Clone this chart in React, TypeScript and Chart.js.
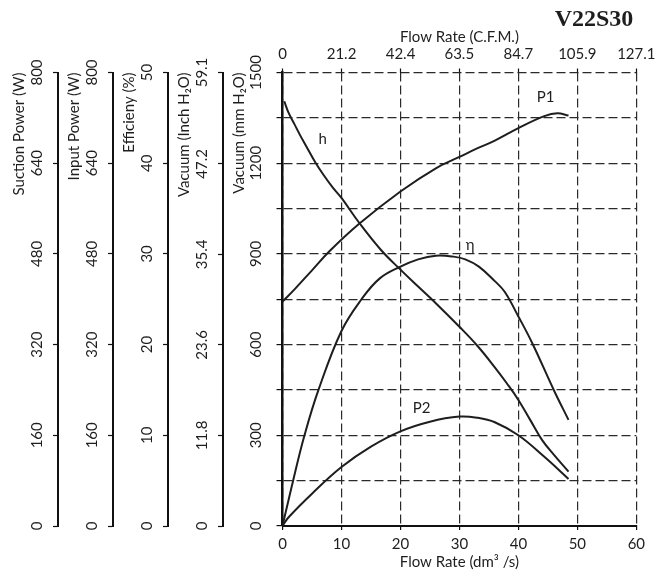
import React, { useEffect, useRef } from 'react';
import { Chart, registerables } from 'chart.js';

Chart.register(...registerables);

const FONT_FAMILY = 'Lato, "Open Sans", "DejaVu Sans", sans-serif';
const INK = '#1e1e1e';
const GRID = '#2a2a2a';

// ---- axes ----
const FLOW_TICKS = [0, 10, 20, 30, 40, 50, 60];
const CFM_TICKS = [0, 21.2, 42.4, 63.5, 84.7, 105.9, 127.1];
const MM_TICKS = [0, 150, 300, 450, 600, 750, 900, 1050, 1200, 1350, 1500];
const MM_LABELED = [0, 300, 600, 900, 1200, 1500];
const INCH_TICKS = [0, 11.8, 23.6, 35.4, 47.2, 59.1];
const EFF_TICKS = [0, 10, 20, 30, 40, 50];
const POWER_TICKS = [0, 160, 320, 480, 640, 800];

// ---- series (flow in dm3/s) ----
const H_FLOW = [0.3, 1, 2, 3, 4, 5.5, 7, 8.5, 10, 13, 16.7, 20, 23, 26, 30, 33, 36, 38, 40, 42, 44, 46, 48.5];
const H_MM = [1405, 1368, 1330, 1292, 1257, 1205, 1160, 1120, 1085, 1003, 913, 848, 792, 737, 659, 597, 525, 473, 417, 351, 285, 236, 180];

const P1_FLOW = [0, 2, 5, 8, 13, 20, 26, 30, 33, 36, 40, 44.4, 46.6, 48.5];
const P1_W = [396, 417, 451, 485, 533, 590, 631, 651, 666, 680, 702, 723, 728, 724];

const ETA_FLOW = [0, 1.8, 3.73, 6.1, 10, 13.4, 16.5, 20, 23, 26, 29, 31, 33.3, 36, 37.7, 40, 42.4, 46, 48.5];
const ETA_PCT = [0, 5.0, 10.0, 15.0, 21.5, 25.0, 27.3, 28.6, 29.4, 29.8, 29.7, 29.4, 28.6, 27.0, 25.8, 23.1, 20.1, 15.0, 11.7];

const P2_FLOW = [0, 1, 5, 10, 15, 20, 25, 30, 33, 36, 40, 44.4, 48.5];
const P2_W = [0, 15, 57, 104, 140, 167, 184, 193, 191, 183, 160, 122, 83];

// curve annotations (in flow / mm H2O units)
const LABEL_TEXT = ['h', 'η', 'P1', 'P2'];
const LABEL_FLOW = [6.8, 31.8, 44.6, 23.6];
const LABEL_MM = [1280, 930, 1417, 389];

const MODEL = 'V22S30';

const toPts = (xs: number[], ys: number[]) => xs.map((x, i) => ({ x, y: ys[i] }));

const font = { family: FONT_FAMILY, size: 15 };

function leftAxis(weight: number, title: string, ticks: number[], max: number, width: number, padding: number) {
  return {
    type: 'linear',
    position: 'left',
    weight,
    min: 0,
    max,
    afterBuildTicks: (s: any) => {
      s.ticks = ticks.map((v) => ({ value: v }));
    },
    afterFit: (s: any) => {
      s.width = width;
    },
    ticks: {
      font,
      color: INK,
      minRotation: 90,
      maxRotation: 90,
      crossAlign: 'center',
      padding,
      callback: (v: any) => String(v),
    },
    grid: {
      drawOnChartArea: false,
      drawTicks: true,
      tickLength: 5,
      tickColor: '#111',
      tickWidth: 1.2,
    },
    border: { display: true, color: '#111', width: 2 },
    title: {
      display: true,
      text: title,
      align: 'end',
      font,
      color: INK,
      padding: { top: 7, bottom: 0 },
    },
  };
}

const annotate = {
  id: 'annotate',
  afterDatasetsDraw(chart: any) {
    const { ctx } = chart;
    const xs = chart.scales.x;
    const ys = chart.scales.mm;
    ctx.save();
    ctx.fillStyle = INK;
    ctx.font = `15px ${FONT_FAMILY}`;
    ctx.textAlign = 'center';
    ctx.textBaseline = 'middle';
    LABEL_TEXT.forEach((t, i) => {
      ctx.fillText(t, xs.getPixelForValue(LABEL_FLOW[i]), ys.getPixelForValue(LABEL_MM[i]));
    });
    ctx.font = 'bold 24px "Liberation Serif", "DejaVu Serif", serif';
    ctx.textAlign = 'right';
    ctx.fillText(MODEL, chart.chartArea.right - 3, 20);
    ctx.restore();
  },
};

export default function App() {
  const ref = useRef<HTMLCanvasElement | null>(null);

  useEffect(() => {
    document.body.style.margin = '0';
    if (!ref.current) return;
    const lineStyle = {
      borderColor: INK,
      borderWidth: 2,
      pointRadius: 0,
      fill: false,
      tension: 0.4,
      xAxisID: 'x',
    };
    const chart = new Chart(ref.current, {
      type: 'line',
      data: {
        datasets: [
          { ...lineStyle, label: 'h', data: toPts(H_FLOW, H_MM), yAxisID: 'mm' },
          { ...lineStyle, label: 'P1', data: toPts(P1_FLOW, P1_W), yAxisID: 'input' },
          { ...lineStyle, label: 'η', data: toPts(ETA_FLOW, ETA_PCT), yAxisID: 'eff' },
          { ...lineStyle, label: 'P2', data: toPts(P2_FLOW, P2_W), yAxisID: 'suction' },
        ] as any,
      },
      options: {
        responsive: false,
        animation: false,
        layout: { padding: { left: 3, right: 17, top: 0, bottom: 0 } },
        plugins: { legend: { display: false }, tooltip: { enabled: false }, title: { display: false } },
        scales: {
          x: {
            type: 'linear',
            position: 'bottom',
            min: 0,
            max: 60,
            afterBuildTicks: (s: any) => {
              s.ticks = FLOW_TICKS.map((v) => ({ value: v }));
            },
            afterFit: (s: any) => {
              s.height = 48;
            },
            ticks: { font, color: INK, padding: 5, maxRotation: 0, callback: (v: any) => String(v) },
            grid: { color: GRID, lineWidth: 1.2, tickLength: 4, drawTicks: true, tickColor: '#111', tickWidth: 1.2 },
            border: { display: true, color: '#111', width: 2, dash: [9, 4] },
            title: { display: true, text: 'Flow Rate (dm³ /s)', font, color: INK, padding: { top: 0, bottom: 3 } },
          },
          cfm: {
            type: 'linear',
            position: 'top',
            min: 0,
            max: 127.1,
            afterBuildTicks: (s: any) => {
              s.ticks = CFM_TICKS.map((v) => ({ value: v }));
            },
            afterFit: (s: any) => {
              s.height = 72.5;
            },
            ticks: { font, color: INK, padding: 5.5, maxRotation: 0, autoSkip: false, callback: (v: any) => String(v) },
            grid: { drawOnChartArea: false, drawTicks: true, tickLength: 4, tickColor: '#111', tickWidth: 1.2 },
            border: { display: false },
            title: { display: true, text: 'Flow Rate (C.F.M.)', font, color: INK, padding: { top: 28, bottom: 0 } },
          },
          suction: leftAxis(5, 'Suction Power (W)', POWER_TICKS, 800, 55, 2.5),
          input: leftAxis(4, 'Input Power (W)', POWER_TICKS, 800, 55, 2.5),
          eff: leftAxis(3, 'Efficieny (%)', EFF_TICKS, 50, 55, 6.8),
          inch: leftAxis(2, 'Vacuum (Inch H₂O)', INCH_TICKS, 59.1, 55, 0.6),
          mm: {
            type: 'linear',
            position: 'left',
            weight: 1,
            min: 0,
            max: 1500,
            afterBuildTicks: (s: any) => {
              s.ticks = MM_TICKS.map((v) => ({ value: v }));
            },
            afterFit: (s: any) => {
              s.width = 59.5;
            },
            ticks: {
              font,
              color: INK,
              minRotation: 90,
              maxRotation: 90,
              crossAlign: 'center',
              padding: 3,
              autoSkip: false,
              callback: (v: any) => (MM_LABELED.includes(v) ? String(v) : ''),
            },
            grid: { color: GRID, lineWidth: 1.2, tickLength: 6, drawTicks: true, tickColor: '#111', tickWidth: 1.2 },
            border: { display: true, color: '#111', width: 2.5, dash: [9, 4] },
            title: {
              display: true,
              text: 'Vacuum (mm H₂O)',
              align: 'end',
              font,
              color: INK,
              padding: { top: 7, bottom: 0 },
            },
          },
        } as any,
      },
      plugins: [annotate],
    });
    return () => chart.destroy();
  }, []);

  return (
    <div style={{ width: 661, height: 574 }}>
      <canvas ref={ref} width={661} height={574} />
    </div>
  );
}
